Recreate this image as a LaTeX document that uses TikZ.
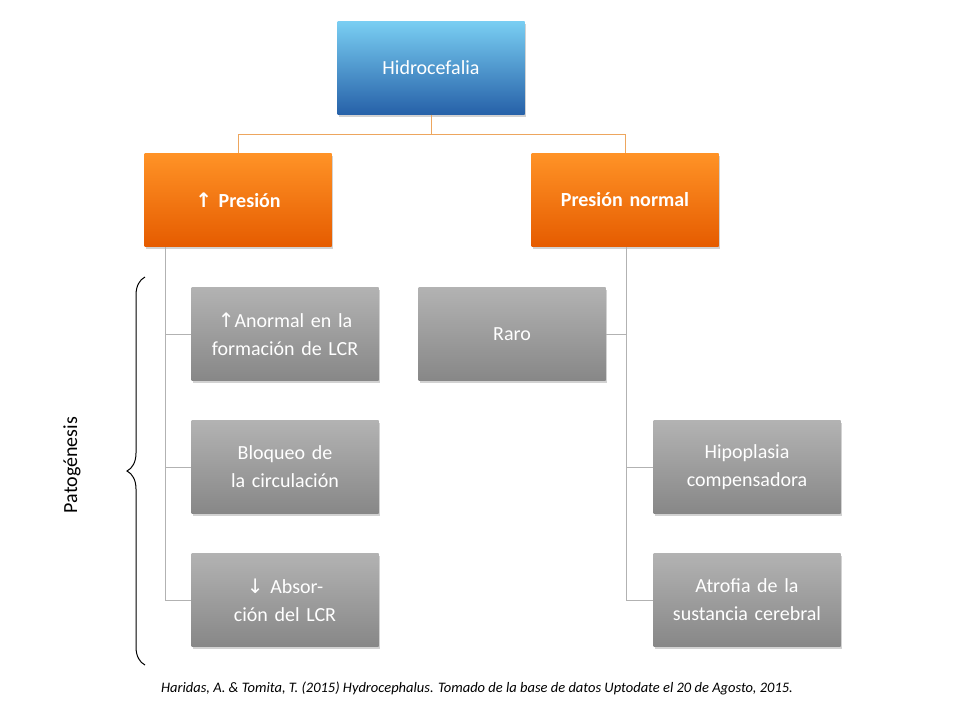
\documentclass[tikz,border=0pt]{standalone}
\usepackage{fontspec}
\setmainfont{Carlito}
\newfontfamily\symfont{DejaVu Sans}
\usetikzlibrary{decorations.pathreplacing,shadows}
\newcommand{\up}{{\symfont\char"2191}}
\newcommand{\down}{{\symfont\char"2193}}
\tikzset{
  box/.style={minimum width=187pt, minimum height=93pt, text width=170pt, align=center,
    text=white, font=\fontsize{20}{28}\selectfont, drop shadow={opacity=0.35,shadow xshift=1pt,shadow yshift=-2pt}},
  bluebox/.style={box, top color=blue!30!cyan!50!white!95!black, bottom color=blue!55!cyan!60!black!85},
  orangebox/.style={box, top color=orange!85!white, bottom color=orange!80!red!90!black, font=\bfseries\fontsize{20}{28}\selectfont},
  graybox/.style={box, top color=black!30, bottom color=black!47},
  link/.style={draw=orange!60!brown!70!white, line width=0.8pt},
  glink/.style={draw=black!30, line width=0.8pt}
}
\begin{document}
\begin{tikzpicture}[x=1pt,y=-1pt]
\useasboundingbox (0,0) rectangle (960,720);
\fill[white] (0,0) rectangle (960,720);
% top level
\node[bluebox] (top) at (431,68) {Hidrocefalia};
\node[orangebox] (high) at (238,200) {\up\ Presión};
\node[orangebox] (norm) at (625,200) {Presión normal};
% left branch
\node[graybox] (form) at (285,334) {\up Anormal en la formación de LCR};
\node[graybox] (block) at (285,467) {Bloqueo de la circulación};
\node[graybox] (abs) at (285,600) {\down\ Absorción del LCR};
% right branch
\node[graybox] (rare) at (512,334) {Raro};
\node[graybox] (hypo) at (747,467) {Hipoplasia compensadora};
\node[graybox] (atro) at (747,600) {Atrofia de la sustancia cerebral};
% connectors
\coordinate (split) at (431,134);
\draw[link] (top.south) -- (split);
\draw[link] (238,134) -- (625,134);
\draw[link] (238,134) -- (high.north);
\draw[link] (625,134) -- (norm.north);
\draw[glink] (165,247) |- (form.west);
\draw[glink] (165,247) |- (block.west);
\draw[glink] (165,247) |- (abs.west);
\draw[glink] (626,247) |- (rare.east);
\draw[glink] (626,247) |- (hypo.west);
\draw[glink] (626,247) |- (atro.west);
% brace for the left column
\draw[decorate,decoration={brace,amplitude=18pt},line width=1pt] (145,665) -- (145,277);
\node[rotate=90, font=\fontsize{20}{24}\selectfont] (pat) at (72,465) {Patogénesis};
\node[font=\itshape\fontsize{14.5}{18}\selectfont] (cite) at (477,688) {Haridas, A. \& Tomita, T. (2015) Hydrocephalus. Tomado de la base de datos Uptodate el 20 de Agosto, 2015.};
\end{tikzpicture}
\end{document}
